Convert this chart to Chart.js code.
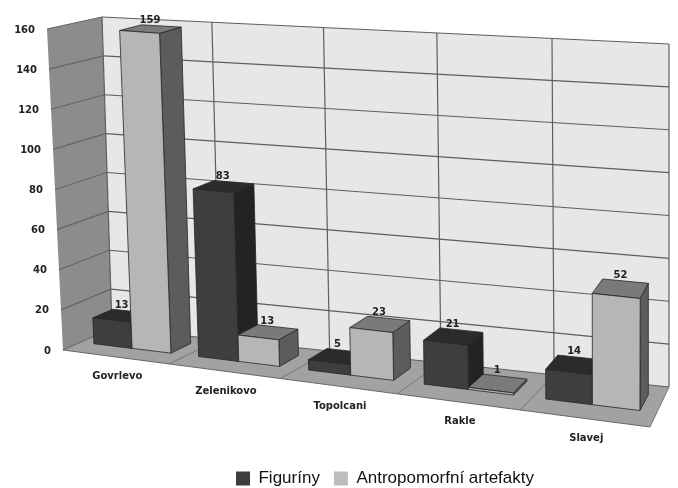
<!DOCTYPE html>
<html>
<head>
<meta charset="utf-8">
<script src="https://cdn.jsdelivr.net/npm/chart.js@4.4.1/dist/chart.umd.min.js"></script>
<style>
  html, body { margin: 0; padding: 0; background: #fff; }
  #wrap { width: 678px; height: 488px; }
</style>
</head>
<body>
<div id="wrap"><canvas id="chart"></canvas></div>
<script>
const sites = ['Govrlevo', 'Zelenikovo', 'Topolcani', 'Rakle', 'Slavej'];
const figuriny = [13, 83, 5, 21, 14];
const artefakty = [159, 13, 23, 1, 52];
const yTicks = [0, 20, 40, 60, 80, 100, 120, 140, 160];

// screen corners of the 3d plot box (front = depth 0, back = depth 1)
const box = {
  fbl: [63, 350], fbr: [650, 427], ftl: [47, 29], ftr: [652, 80],
  bbl: [112, 328], bbr: [669, 387], btl: [102, 17], btr: [669, 44]
};
const barFront = 0.36, barBack = 0.76;

const faces = [
  { front: '#3e3e3e', top: '#2b2b2b', side: '#232323' },
  { front: '#b6b6b6', top: '#7a7a7a', side: '#5c5c5c' }
];

function lerp(a, b, t) {
  return [a[0] + (b[0] - a[0]) * t, a[1] + (b[1] - a[1]) * t];
}
// rough perspective squeeze across the categories, weaker towards the back wall
function persp(u, w) {
  const c = 1.135 - 0.095 * Math.pow(w, 4);
  return u / (u + c * (1 - u));
}
// u: across categories, t: value (0..1), w: depth
function project(u, t, w) {
  u = persp(u, w);
  const f = lerp(lerp(box.fbl, box.fbr, u), lerp(box.ftl, box.ftr, u), t);
  const b = lerp(lerp(box.bbl, box.bbr, u), lerp(box.btl, box.btr, u), t);
  return lerp(f, b, w);
}

function poly(ctx, pts, fill, stroke, lw) {
  ctx.beginPath();
  pts.forEach((p, i) => i ? ctx.lineTo(p[0], p[1]) : ctx.moveTo(p[0], p[1]));
  ctx.closePath();
  if (fill) { ctx.fillStyle = fill; ctx.fill(); }
  if (stroke) { ctx.strokeStyle = stroke; ctx.lineWidth = lw || 1; ctx.stroke(); }
}
function line(ctx, a, b, color, lw) {
  ctx.beginPath();
  ctx.moveTo(a[0], a[1]);
  ctx.lineTo(b[0], b[1]);
  ctx.strokeStyle = color;
  ctx.lineWidth = lw || 1;
  ctx.stroke();
}

const box3d = {
  id: 'box3d',
  beforeDatasetsDraw(chart) {
    const ctx = chart.ctx;
    const area = chart.chartArea;
    const xs = chart.scales.x, ys = chart.scales.y;
    const nu = px => (px - area.left) / area.width;
    const nv = val => (area.bottom - ys.getPixelForValue(val)) / area.height;
    const P = project;

    ctx.save();
    // walls and floor
    poly(ctx, [P(0, 0, 1), P(1, 0, 1), P(1, 1, 1), P(0, 1, 1)], '#e7e7e7');
    poly(ctx, [P(0, 0, 0), P(0, 0, 1), P(0, 1, 1), P(0, 1, 0)], '#8c8c8c');
    poly(ctx, [P(0, 0, 0), P(1, 0, 0), P(1, 0, 1), P(0, 0, 1)], '#a2a2a2');

    // grid on side and back walls
    yTicks.forEach(v => {
      const t = nv(v);
      line(ctx, P(0, t, 0), P(0, t, 1), '#666', 1.2);
      line(ctx, P(0, t, 1), P(1, t, 1), '#5e5e5e', 1.2);
    });
    for (let i = 0; i <= sites.length; i++) {
      const u = i / sites.length;
      line(ctx, P(u, 0, 1), P(u, 1, 1), '#5e5e5e', 1.2);
      line(ctx, P(u, 0, 0), P(u, 0, 1), '#777', 1);
    }
    line(ctx, P(0, 0, 0), P(1, 0, 0), '#666', 1);

    // y tick labels on the front edge
    ctx.font = 'bold 10px "DejaVu Sans"';
    ctx.fillStyle = '#222';
    ctx.textAlign = 'right';
    ctx.textBaseline = 'middle';
    yTicks.forEach(v => {
      const p = P(0, nv(v), 0);
      ctx.fillText(String(v), p[0] - 12, p[1] + 1);
    });

    // category labels
    ctx.textAlign = 'center';
    sites.forEach((s, i) => {
      const p = P(nu(xs.getPixelForValue(i)), 0, 0);
      ctx.fillText(s, p[0] + 2, p[1] + 20);
    });

    // bars, left to right
    const metas = chart.data.datasets.map((d, i) => chart.getDatasetMeta(i));
    sites.forEach((s, j) => {
      metas.forEach((meta, di) => {
        const el = meta.data[j];
        const { x, width } = el.getProps(['x', 'width'], true);
        const value = chart.data.datasets[di].data[j];
        const u0 = nu(x - width / 2), u1 = nu(x + width / 2);
        const t = nv(value);
        const c = faces[di];
        const edge = '#262626';
        poly(ctx, [P(u1, 0, barFront), P(u1, 0, barBack), P(u1, t, barBack), P(u1, t, barFront)], c.side, edge, 0.8);
        poly(ctx, [P(u0, t, barFront), P(u1, t, barFront), P(u1, t, barBack), P(u0, t, barBack)], c.top, edge, 0.8);
        poly(ctx, [P(u0, 0, barFront), P(u1, 0, barFront), P(u1, t, barFront), P(u0, t, barFront)], c.front, edge, 0.8);
      });
    });

    // value labels
    ctx.fillStyle = '#222';
    ctx.textBaseline = 'bottom';
    const mid = (barFront + barBack) / 2;
    metas.forEach((meta, di) => {
      meta.data.forEach((el, j) => {
        const { x } = el.getProps(['x'], true);
        const value = chart.data.datasets[di].data[j];
        const t = nv(value);
        const pm = P(nu(x), t, mid);
        const pb = P(nu(x), t, barBack);
        ctx.fillText(String(value), pm[0], pb[1] - 1);
      });
    });
    ctx.restore();
    return false;
  }
};

new Chart(document.getElementById('chart'), {
  type: 'bar',
  data: {
    labels: sites,
    datasets: [
      { label: 'Figuríny', data: figuriny, backgroundColor: '#3d3d3d', borderWidth: 0 },
      { label: 'Antropomorfní artefakty', data: artefakty, backgroundColor: '#bdbdbd', borderWidth: 0 }
    ]
  },
  options: {
    responsive: true,
    maintainAspectRatio: false,
    animation: false,
    categoryPercentage: 0.74,
    barPercentage: 1.0,
    layout: { padding: { left: 92, bottom: -9 } },
    scales: {
      x: { display: false },
      y: { display: false, min: 0, max: 160 }
    },
    plugins: {
      legend: {
        position: 'bottom',
        labels: {
          boxWidth: 14,
          boxHeight: 14,
          padding: 14,
          color: '#111',
          font: { family: 'Liberation Sans', size: 17 }
        }
      },
      tooltip: { enabled: false }
    }
  },
  plugins: [box3d]
});
</script>
</body>
</html>
